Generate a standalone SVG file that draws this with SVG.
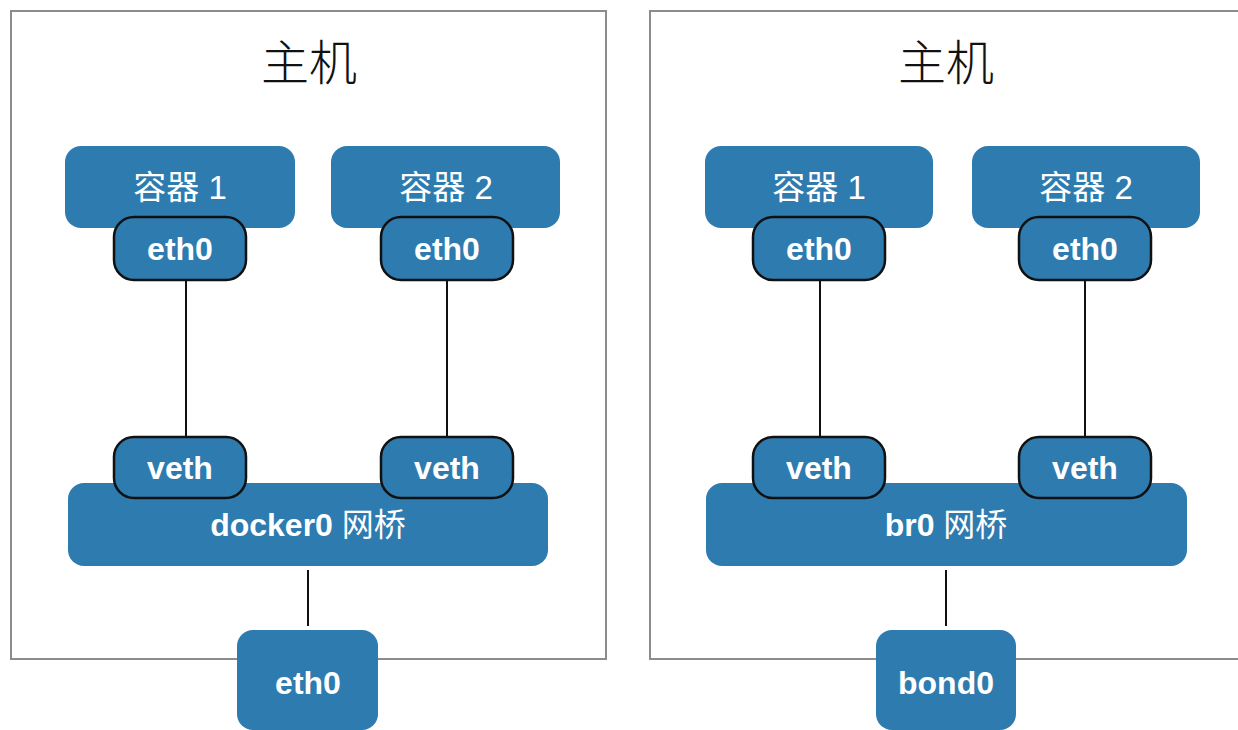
<svg xmlns="http://www.w3.org/2000/svg" width="1238" height="730" viewBox="0 0 1238 730">
<style>
.host{fill:#ffffff;stroke:#8c8c8c;stroke-width:2}
.blk{fill:#2e7bb0}
.port{fill:#2e7bb0;stroke:#111;stroke-width:2.5}
.link{stroke:#111;stroke-width:2;fill:none}
.title{font-family:"Noto Sans CJK SC","Liberation Sans",sans-serif;font-weight:300;font-size:48px;fill:#111;text-anchor:middle}
.cn{font-family:"Liberation Sans","Noto Sans CJK SC",sans-serif;font-size:33px;fill:#fff;text-anchor:middle}
.b{font-family:"Liberation Sans","Noto Sans CJK SC",sans-serif;font-weight:bold;font-size:32px;fill:#fff;text-anchor:middle}
.r{font-weight:normal}
</style>
<rect width="1238" height="730" fill="#ffffff"/>
<g id="host-left">
<rect class="host" x="11" y="11" width="595" height="648"/>
<text class="title" x="309" y="80">主机</text>
</g>
<g id="host-right">
<rect class="host" x="650" y="11" width="600" height="648"/>
<text class="title" x="946" y="80">主机</text>
</g>
<g id="connectors">
<line class="link" x1="186" y1="280" x2="186" y2="437"/>
<line class="link" x1="447" y1="280" x2="447" y2="437"/>
<line class="link" x1="308" y1="570" x2="308" y2="626"/>
<line class="link" x1="820" y1="280" x2="820" y2="437"/>
<line class="link" x1="1085" y1="280" x2="1085" y2="437"/>
<line class="link" x1="946" y1="570" x2="946" y2="626"/>
</g>
<g id="container1-left">
<rect class="blk" x="65" y="146" width="230" height="82" rx="16"/>
<text class="cn" x="180" y="199">容器 1</text>
</g>
<g id="container2-left">
<rect class="blk" x="331" y="146" width="229" height="82" rx="16"/>
<text class="cn" x="446" y="199">容器 2</text>
</g>
<g id="eth0-c1-left">
<rect class="port" x="114" y="217" width="132" height="63" rx="20"/>
<text class="b" x="180" y="260">eth0</text>
</g>
<g id="eth0-c2-left">
<rect class="port" x="381" y="217" width="132" height="63" rx="20"/>
<text class="b" x="447" y="260">eth0</text>
</g>
<g id="docker0">
<rect class="blk" x="68" y="483" width="480" height="83" rx="16"/>
<text class="b" x="308" y="536">docker0 <tspan class="r">网桥</tspan></text>
</g>
<g id="veth1-left">
<rect class="port" x="114" y="437" width="132" height="61" rx="20"/>
<text class="b" x="180" y="479">veth</text>
</g>
<g id="veth2-left">
<rect class="port" x="381" y="437" width="132" height="61" rx="20"/>
<text class="b" x="447" y="479">veth</text>
</g>
<g id="eth0-host">
<rect class="blk" x="237" y="630" width="141" height="100" rx="16"/>
<text class="b" x="308" y="694">eth0</text>
</g>
<g id="container1-right">
<rect class="blk" x="705" y="146" width="228" height="82" rx="16"/>
<text class="cn" x="819" y="199">容器 1</text>
</g>
<g id="container2-right">
<rect class="blk" x="972" y="146" width="228" height="82" rx="16"/>
<text class="cn" x="1086" y="199">容器 2</text>
</g>
<g id="eth0-c1-right">
<rect class="port" x="753" y="217" width="132" height="63" rx="20"/>
<text class="b" x="819" y="260">eth0</text>
</g>
<g id="eth0-c2-right">
<rect class="port" x="1019" y="217" width="132" height="63" rx="20"/>
<text class="b" x="1085" y="260">eth0</text>
</g>
<g id="br0">
<rect class="blk" x="706" y="483" width="481" height="83" rx="16"/>
<text class="b" x="946" y="536">br0 <tspan class="r">网桥</tspan></text>
</g>
<g id="veth1-right">
<rect class="port" x="753" y="437" width="132" height="61" rx="20"/>
<text class="b" x="819" y="479">veth</text>
</g>
<g id="veth2-right">
<rect class="port" x="1019" y="437" width="132" height="61" rx="20"/>
<text class="b" x="1085" y="479">veth</text>
</g>
<g id="bond0">
<rect class="blk" x="876" y="630" width="140" height="100" rx="16"/>
<text class="b" x="946" y="694">bond0</text>
</g>
</svg>
